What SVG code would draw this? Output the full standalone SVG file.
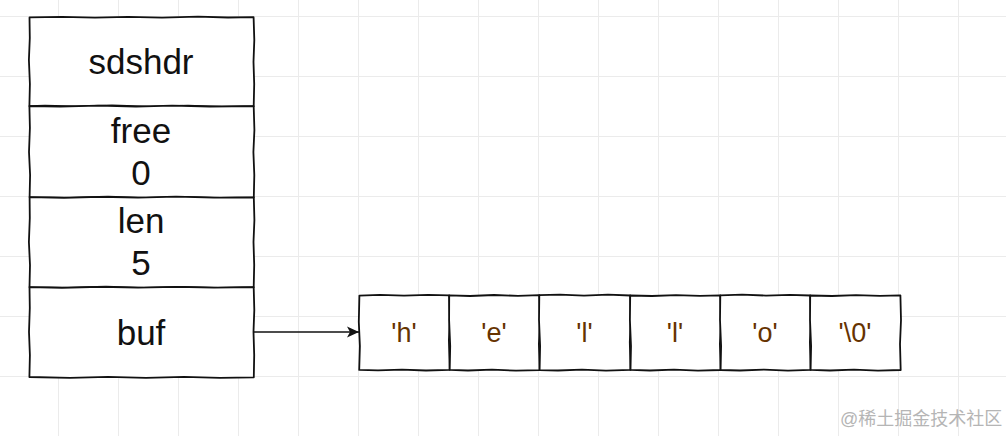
<svg xmlns="http://www.w3.org/2000/svg" width="1006" height="436" viewBox="0 0 1006 436">
<defs>
<style>
.grid line{stroke:#ebebeb;stroke-width:1}
.box{fill:#ffffff;stroke:#111111;stroke-width:1.8;stroke-linejoin:round}
.lbl{font-family:"Liberation Sans",Arial,sans-serif;font-size:35px;fill:#111111;text-anchor:middle}
.chr{font-family:"Liberation Sans",Arial,sans-serif;font-size:27px;fill:#663300;text-anchor:middle}
.wm{font-family:"Liberation Sans","Noto Sans CJK SC",sans-serif;font-size:18px;fill:#b5b5b5}
</style>
<marker id="ah" viewBox="0 0 12 12" refX="12" refY="6" markerWidth="12" markerHeight="12" markerUnits="userSpaceOnUse" orient="auto">
<path d="M0,0.5 L12,6 L0,11.5 L3,6 Z" fill="#111111"/>
</marker>
</defs>
<rect width="1006" height="436" fill="#ffffff"/>
<g class="grid">
<line x1="58.5" y1="0" x2="58.5" y2="436"/><line x1="118.5" y1="0" x2="118.5" y2="436"/><line x1="178.5" y1="0" x2="178.5" y2="436"/><line x1="238.5" y1="0" x2="238.5" y2="436"/><line x1="298.5" y1="0" x2="298.5" y2="436"/><line x1="358.5" y1="0" x2="358.5" y2="436"/><line x1="418.5" y1="0" x2="418.5" y2="436"/><line x1="478.5" y1="0" x2="478.5" y2="436"/><line x1="538.5" y1="0" x2="538.5" y2="436"/><line x1="598.5" y1="0" x2="598.5" y2="436"/><line x1="658.5" y1="0" x2="658.5" y2="436"/><line x1="718.5" y1="0" x2="718.5" y2="436"/><line x1="778.5" y1="0" x2="778.5" y2="436"/><line x1="838.5" y1="0" x2="838.5" y2="436"/><line x1="898.5" y1="0" x2="898.5" y2="436"/><line x1="958.5" y1="0" x2="958.5" y2="436"/>
<line x1="0" y1="16.5" x2="1006" y2="16.5"/><line x1="0" y1="76.5" x2="1006" y2="76.5"/><line x1="0" y1="136.5" x2="1006" y2="136.5"/><line x1="0" y1="196.5" x2="1006" y2="196.5"/><line x1="0" y1="256.5" x2="1006" y2="256.5"/><line x1="0" y1="316.5" x2="1006" y2="316.5"/><line x1="0" y1="376.5" x2="1006" y2="376.5"/>
</g>
<g id="connectors">
<path d="M254,332 L359,332" fill="none" stroke="#111111" stroke-width="1.3" marker-end="url(#ah)"/>
</g>
<g id="node-sdshdr">
<path class="box" d="M29.5,17.4 L62,16.8 L95,17.7 L128,16.9 L162,17.6 L198,16.7 L228,17.5 L253.6,17.2 L254.3,40 L253.5,62 L254.2,84 L253.7,106.2 L222,106.8 L188,105.6 L150,106.6 L112,105.5 L76,106.5 L45,105.7 L29.4,106.1 L29.9,84 L28.9,60 L29.8,38 Z"/>
<text class="lbl" x="141" y="74">sdshdr</text>
</g>
<g id="node-free">
<path class="box" d="M29.4,106.1 L60,106.7 L98,105.7 L136,106.6 L172,105.6 L210,106.5 L253.7,106.2 L254.4,130 L253.4,152 L254.3,175 L253.8,197.3 L220,197.9 L184,196.8 L146,197.8 L108,196.7 L70,197.7 L29.6,197.1 L30.1,175 L29.0,152 L29.9,128 Z"/>
<text class="lbl" x="141" y="143">free</text>
<text class="lbl" x="141" y="185">0</text>
</g>
<g id="node-len">
<path class="box" d="M29.6,197.1 L64,197.8 L100,196.8 L138,197.7 L176,196.7 L214,197.6 L253.8,197.3 L254.4,220 L253.5,242 L254.2,265 L253.7,287.2 L218,287.9 L182,286.8 L144,287.8 L106,286.7 L68,287.7 L29.5,287.1 L30.0,265 L28.9,242 L29.8,218 Z"/>
<text class="lbl" x="141" y="233">len</text>
<text class="lbl" x="141" y="275">5</text>
</g>
<g id="node-buf">
<path class="box" d="M29.5,287.1 L62,287.8 L100,286.8 L138,287.7 L176,286.8 L214,287.7 L253.7,287.2 L254.3,310 L253.5,332 L254.2,355 L253.8,377.3 L220,377.9 L184,376.8 L146,377.8 L108,376.8 L70,377.8 L29.4,377.0 L29.9,355 L29.0,332 L29.8,308 Z"/>
<text class="lbl" x="141" y="345">buf</text>
</g>
<g id="node-c0">
<path class="box" d="M359.4,295.6 L380,294.8 L404,295.7 L428,294.9 L449.2,295.4 L449.9,318 L448.9,340 L449.7,369.8 L426,370.5 L402,369.6 L378,370.4 L359.2,369.9 L359.9,346 L358.8,322 Z"/>
<text class="chr" x="404" y="342">'h'</text>
</g>
<g id="node-c1">
<path class="box" d="M449.2,295.4 L470,296.0 L494,295.0 L518,295.9 L539.3,295.2 L540.0,320 L538.9,344 L539.6,370.1 L516,370.7 L492,369.7 L468,370.5 L449.7,369.8 L450.2,346 L449.1,320 Z"/>
<text class="chr" x="494" y="342">'e'</text>
</g>
<g id="node-c2">
<path class="box" d="M539.3,295.2 L560,294.6 L584,295.6 L608,294.7 L630.2,295.5 L630.8,318 L629.8,342 L630.5,369.9 L606,370.6 L582,369.6 L558,370.5 L539.6,370.1 L540.1,346 L539.0,320 Z"/>
<text class="chr" x="584.5" y="342">'l'</text>
</g>
<g id="node-c3">
<path class="box" d="M630.2,295.5 L652,296.0 L676,295.1 L700,295.9 L720.3,295.3 L721.0,320 L719.9,344 L720.6,370.0 L698,370.7 L674,369.7 L650,370.5 L630.5,369.9 L631.0,346 L629.9,320 Z"/>
<text class="chr" x="675" y="342">'l'</text>
</g>
<g id="node-c4">
<path class="box" d="M720.3,295.3 L742,294.7 L766,295.6 L790,294.8 L810.2,295.5 L810.9,318 L809.9,342 L810.6,369.9 L788,370.6 L764,369.6 L740,370.5 L720.6,370.0 L721.1,346 L720.0,320 Z"/>
<text class="chr" x="765" y="342">'o'</text>
</g>
<g id="node-c5">
<path class="box" d="M810.2,295.5 L832,296.0 L856,295.1 L880,295.9 L900.4,295.3 L901.0,320 L900.0,344 L900.7,370.0 L878,370.7 L854,369.7 L830,370.5 L810.6,369.9 L811.1,346 L810.0,320 Z"/>
<text class="chr" x="855" y="342">'\0'</text>
</g>
<text class="wm" x="840" y="425">@稀土掘金技术社区</text>
</svg>
